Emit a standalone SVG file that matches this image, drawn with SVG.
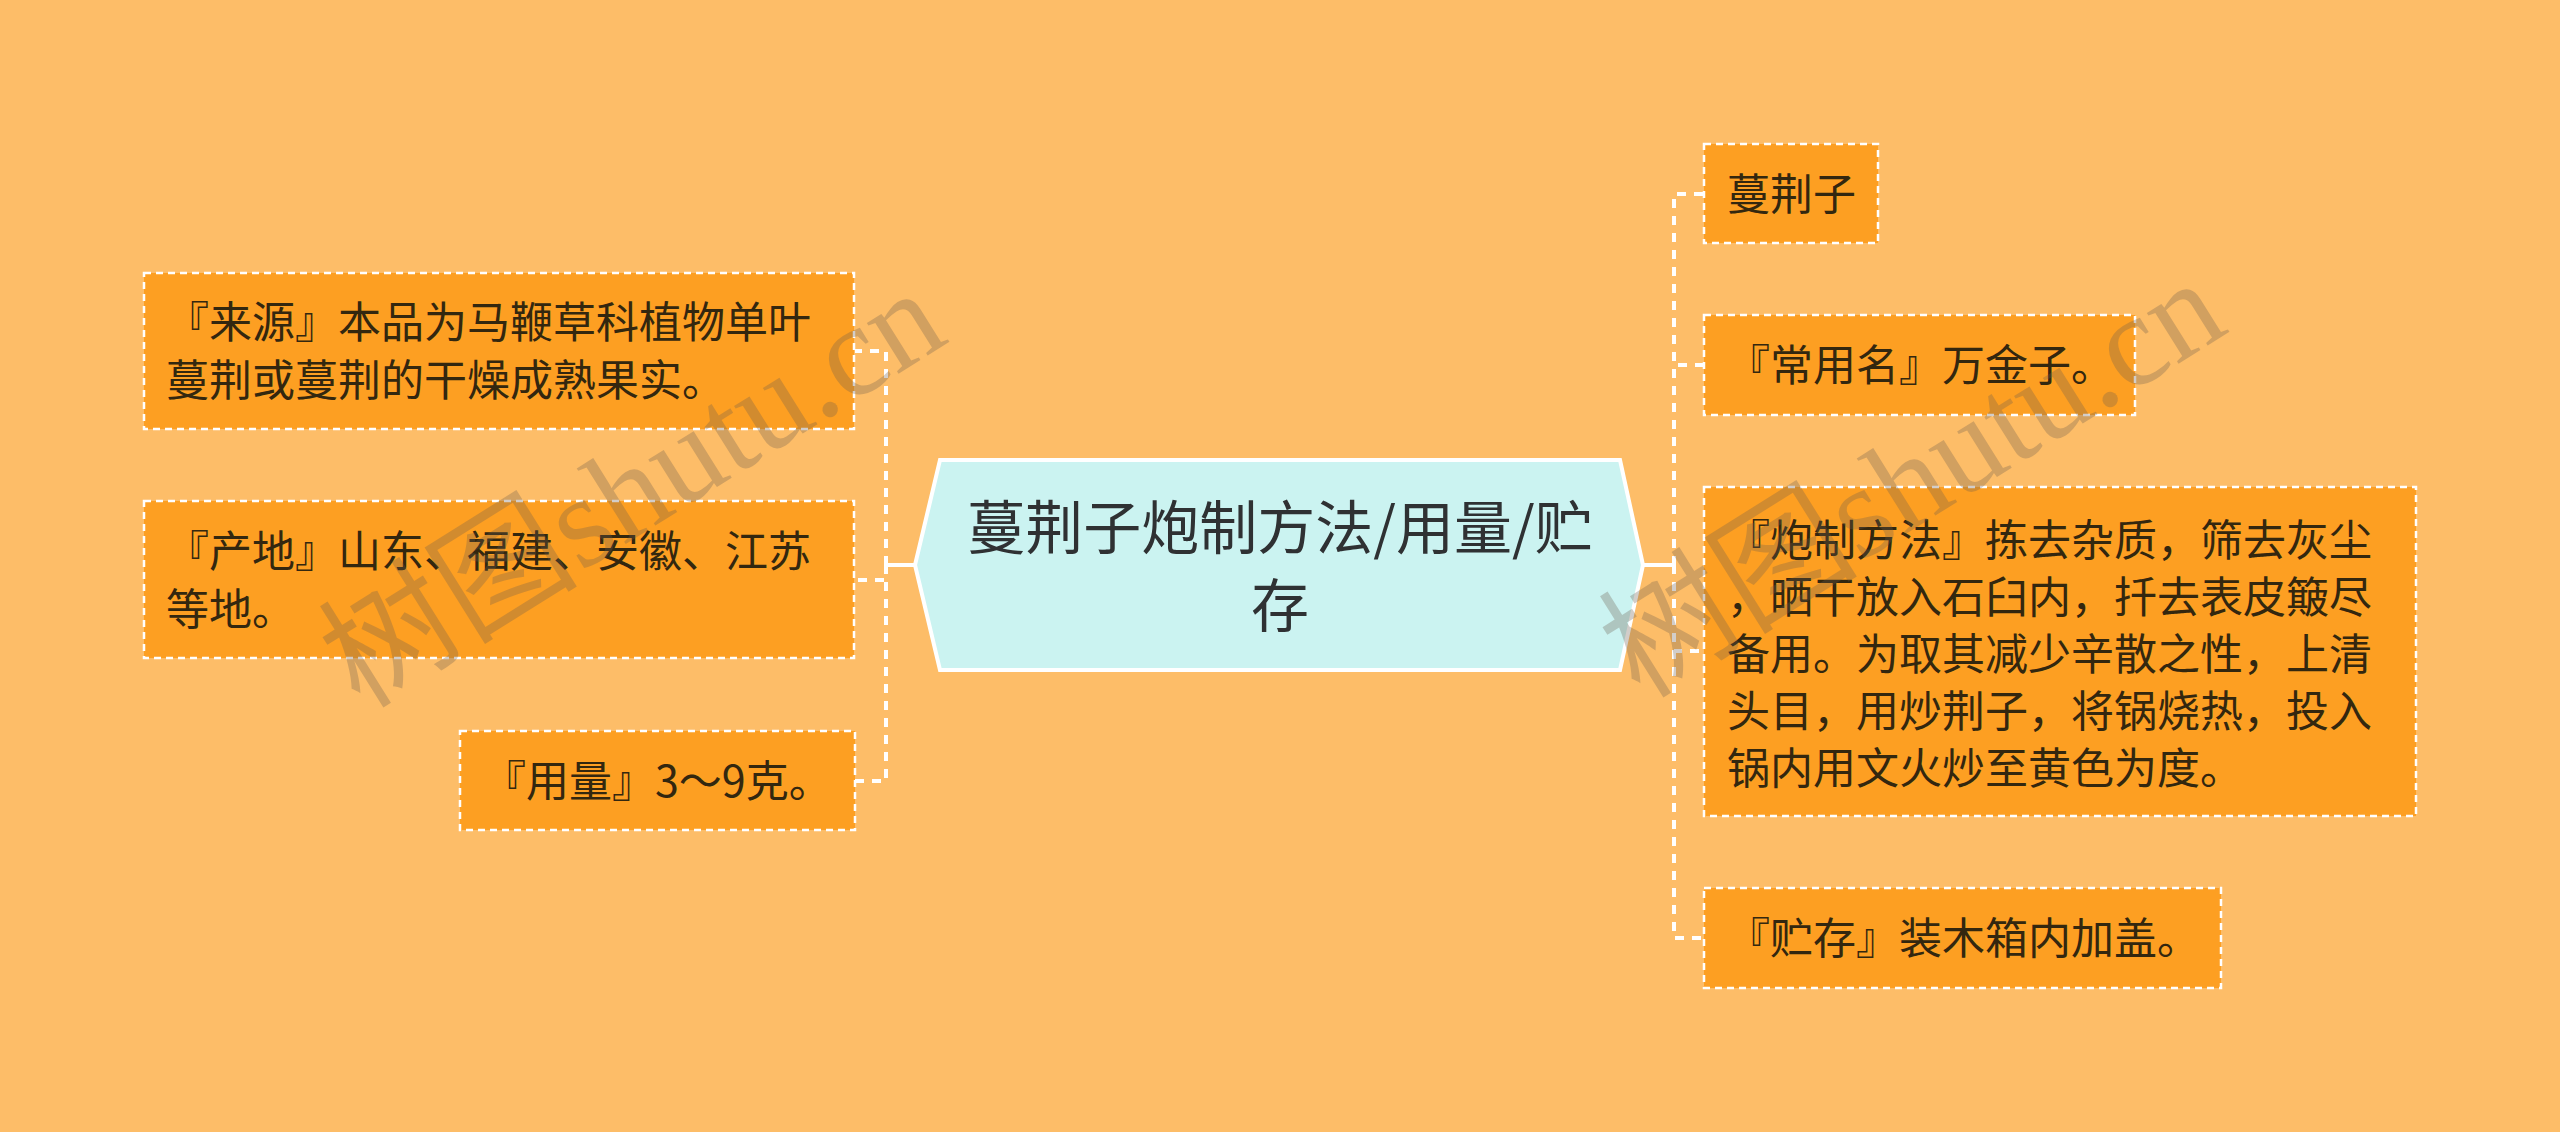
<svg xmlns="http://www.w3.org/2000/svg" width="2560" height="1132" viewBox="0 0 2560 1132">
<style>
.bg{fill:#fdbd68}
.node rect{fill:#fd9f22;stroke:#ffffff;stroke-width:2.5;stroke-dasharray:7 5}
.node text{font-family:"Noto Sans CJK SC","Noto Sans",sans-serif;font-size:43px;fill:#33270f}
.center polygon{fill:#cbf3f1;stroke:#ffffff;stroke-width:4}
.center text{font-family:"Noto Sans CJK SC","Noto Sans",sans-serif;font-size:58px;fill:#2f3133;text-anchor:middle}
.conn path{fill:none;stroke:#ffffff;stroke-width:4}
.conn .dash{stroke-dasharray:9 8}
.wm{font-family:"Liberation Serif","Noto Sans CJK SC",serif;font-size:130px;fill:#6e5e4e;opacity:0.3}
</style>
<rect class="bg" x="0" y="0" width="2560" height="1132"/>
<g id="connectors" class="conn">
<path d="M915 565 H886"/>
<path class="dash" d="M886 565 V351 H855"/>
<path class="dash" d="M886 565 V580 H855"/>
<path class="dash" d="M886 565 V781 H855"/>
<path d="M1643 565 H1674"/>
<path class="dash" d="M1674 565 V194 H1704"/>
<path class="dash" d="M1674 565 V365 H1704"/>
<path class="dash" d="M1674 565 V651 H1704"/>
<path class="dash" d="M1674 565 V938 H1704"/>
</g>
<g id="center" class="center">
<polygon points="940,460 1620,460 1643,565 1620,670 940,670 915,565"/>
<text x="1280" y="549">蔓荆子炮制方法/用量/贮</text>
<text x="1280" y="627">存</text>
</g>
<g id="n-source" class="node">
<rect x="144" y="273" width="710" height="156"/>
<text x="166" y="338">『来源』本品为马鞭草科植物单叶</text>
<text x="166" y="396">蔓荆或蔓荆的干燥成熟果实。</text>
</g>
<g id="n-origin" class="node">
<rect x="144" y="501" width="710" height="157"/>
<text x="166" y="567">『产地』山东、福建、安徽、江苏</text>
<text x="166" y="625">等地。</text>
</g>
<g id="n-dose" class="node">
<rect x="460" y="731" width="395" height="99"/>
<text x="483" y="797">『用量』3～9克。</text>
</g>
<g id="n-name" class="node">
<rect x="1704" y="144" width="174" height="99"/>
<text x="1727" y="210">蔓荆子</text>
</g>
<g id="n-common" class="node">
<rect x="1704" y="315" width="431" height="100"/>
<text x="1727" y="381">『常用名』万金子。</text>
</g>
<g id="n-process" class="node">
<rect x="1704" y="487" width="712" height="329"/>
<text x="1727" y="556">『炮制方法』拣去杂质，筛去灰尘</text>
<text x="1727" y="613">，晒干放入石臼内，扦去表皮簸尽</text>
<text x="1727" y="670">备用。为取其减少辛散之性，上清</text>
<text x="1727" y="727">头目，用炒荆子，将锅烧热，投入</text>
<text x="1727" y="784">锅内用文火炒至黄色为度。</text>
</g>
<g id="n-store" class="node">
<rect x="1704" y="888" width="517" height="100"/>
<text x="1727" y="954">『贮存』装木箱内加盖。</text>
</g>
<g id="watermark">
<text class="wm" transform="translate(360,710) rotate(-32)">树图shutu.cn</text>
<text class="wm" transform="translate(1640,700) rotate(-32)">树图shutu.cn</text>
</g>
</svg>
